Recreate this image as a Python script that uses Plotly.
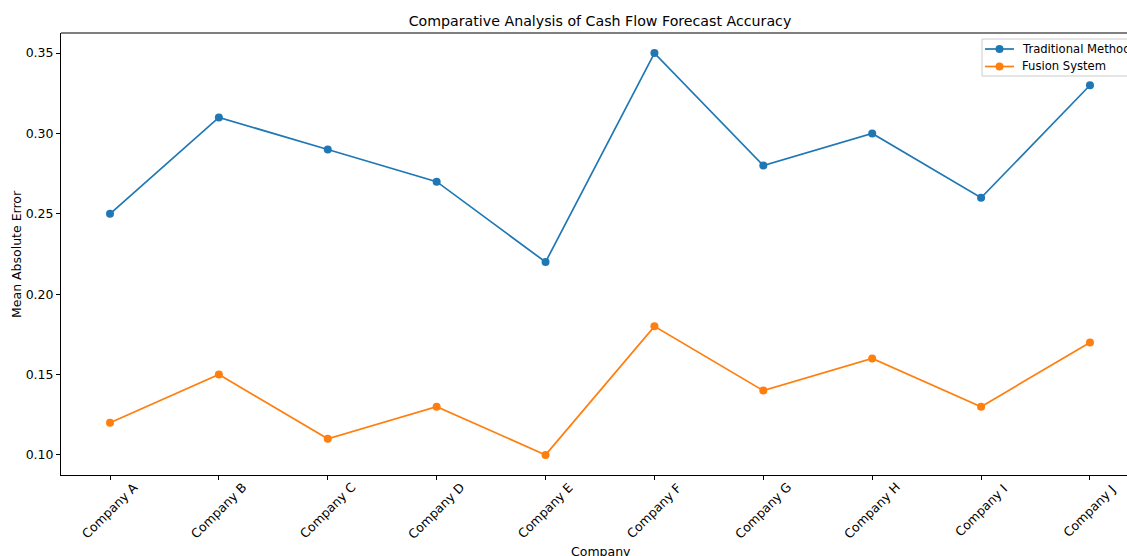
import plotly.graph_objects as go

companies = ["Company A", "Company B", "Company C", "Company D", "Company E",
             "Company F", "Company G", "Company H", "Company I", "Company J"]
traditional = [0.25, 0.31, 0.29, 0.27, 0.22, 0.35, 0.28, 0.30, 0.26, 0.33]
fusion = [0.12, 0.15, 0.11, 0.13, 0.10, 0.18, 0.14, 0.16, 0.13, 0.17]
y_ticks = [0.10, 0.15, 0.20, 0.25, 0.30, 0.35]
series_names = ["Traditional Method", "Fusion System"]
colors = ["#1f77b4", "#ff7f0e"]

W, H = 1127, 556
L, T = 61, 33
PH = 442
B = H - T - PH
PW = W - L
FONT = "DejaVu Sans"


def px(x):  # page pixel x -> paper
    return (x - L) / PW


def py(y):  # page pixel y -> paper
    return (T + PH - y) / PH


fig = go.Figure()
for name, vals, c in zip(series_names, [traditional, fusion], colors):
    fig.add_trace(go.Scatter(x=companies, y=vals, mode="lines+markers", name=name, showlegend=False,
                             line=dict(color=c, width=1.7), marker=dict(size=8, color=c)))

shapes = [dict(type="line", xref="paper", yref="paper", x0=0, x1=1.02, y0=1, y1=1,
               line=dict(color="black", width=1))]
annotations = [
    dict(text="Mean Absolute Error", xref="paper", yref="paper", x=px(16), y=0.5,
         xanchor="center", yanchor="middle", textangle=-90, showarrow=False,
         font=dict(size=12.5, family=FONT)),
    dict(text="Company", xref="paper", yref="paper", x=px(601), y=py(551),
         xanchor="center", yanchor="middle", showarrow=False, font=dict(size=12.5, family=FONT)),
]

# x tick labels rotated about their centre (matplotlib style)
for comp in companies:
    annotations.append(dict(text=comp, xref="x", yref="paper", x=comp, y=py(511),
                            xanchor="center", yanchor="middle", textangle=-45, showarrow=False,
                            font=dict(size=12.5, family=FONT)))

# manual legend (box runs off the right edge like the reference)
shapes.append(dict(type="rect", xref="paper", yref="paper", x0=px(982), x1=px(1145),
                   y0=py(76), y1=py(39), fillcolor="rgba(255,255,255,0.8)",
                   line=dict(color="#cccccc", width=1), layer="above"))
for i, (name, c) in enumerate(zip(series_names, colors)):
    ry = 49 + 17.5 * i
    shapes.append(dict(type="line", xref="paper", yref="paper", x0=px(985), x1=px(1014),
                       y0=py(ry), y1=py(ry), line=dict(color=c, width=1.7), layer="above"))
    shapes.append(dict(type="circle", xref="paper", yref="paper", xsizemode="pixel", ysizemode="pixel",
                       xanchor=px(999.5), yanchor=py(ry), x0=-4, x1=4, y0=-4, y1=4,
                       fillcolor=c, line=dict(color=c, width=0), layer="above"))
    annotations.append(dict(text=name, xref="paper", yref="paper", x=px(1020), y=py(ry),
                            xanchor="left", yanchor="middle", showarrow=False,
                            font=dict(size=11.6, family=FONT)))

fig.update_layout(
    width=W, height=H,
    margin=dict(l=L, r=0, t=T, b=B, pad=0),
    plot_bgcolor="white", paper_bgcolor="white",
    font=dict(family=FONT, size=12.5, color="black"),
    title=dict(text="Comparative Analysis of Cash Flow Forecast Accuracy",
               x=600 / W, xref="container", xanchor="center",
               y=1 - 21 / H, yref="container", yanchor="middle",
               font=dict(size=14.2, family=FONT, color="black")),
    showlegend=False,
    xaxis=dict(type="category", range=[-0.45, 9.34], showgrid=False, zeroline=False,
               showline=True, linecolor="black", linewidth=1, mirror=False,
               ticks="outside", ticklen=4, tickcolor="black", showticklabels=False),
    yaxis=dict(range=[0.0875, 0.3625], tickvals=y_ticks, ticktext=[f"{v:.2f}" for v in y_ticks],
               showgrid=False, zeroline=False, showline=True, linecolor="black", linewidth=1,
               ticks="outside", ticklen=4, tickcolor="black", tickfont=dict(size=12.5, family=FONT)),
    annotations=annotations,
    shapes=shapes,
)

fig.write_html("out.html", config={"displayModeBar": False},
               post_script="document.body.style.margin='0';document.body.style.overflow='hidden';")
